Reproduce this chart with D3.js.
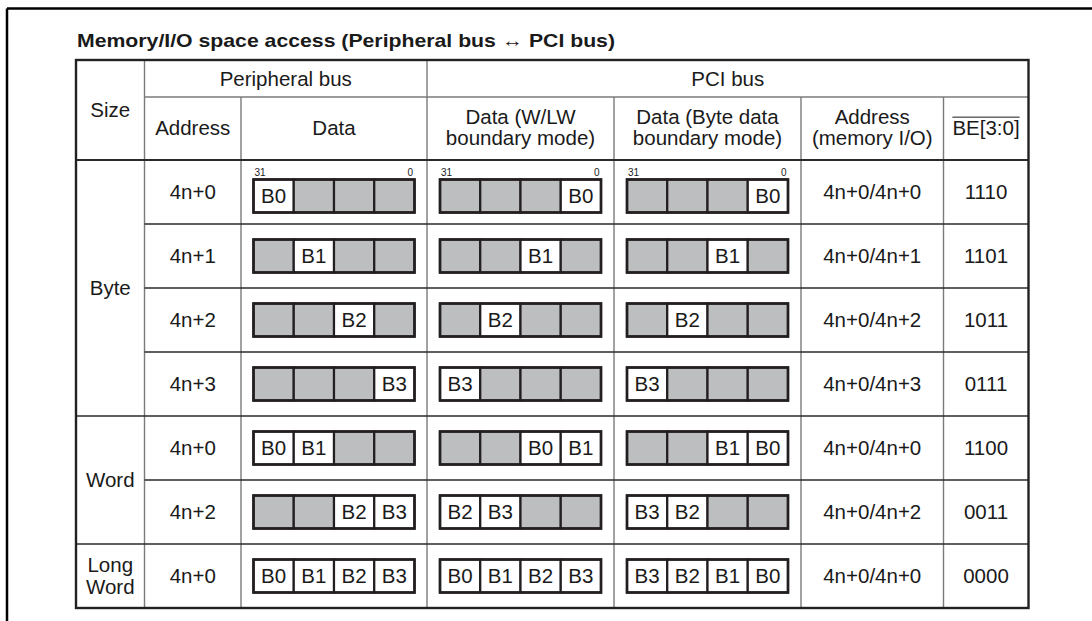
<!DOCTYPE html>
<html>
<head>
<meta charset="utf-8">
<script src="https://cdn.jsdelivr.net/npm/d3@7"></script>
<style>
  html, body { margin: 0; padding: 0; background: #fff; }
  svg { display: block; }
  text { font-family: "Liberation Sans", Arial, Helvetica, sans-serif; fill: #1a1a1a; }
</style>
</head>
<body>
<svg id="chart" width="1092" height="621"></svg>
<script>
// ---------------- data ----------------
const title = "Memory/I/O space access (Peripheral bus \u2194 PCI bus)";
const groupHeaders = ["Peripheral bus", "PCI bus"];
const columnHeaders = [
  ["Size"], ["Address"], ["Data"],
  ["Data (W/LW", "boundary mode)"],
  ["Data (Byte data", "boundary mode)"],
  ["Address", "(memory I/O)"],
  ["BE[3:0]"]
];
const sizeGroups = [
  { label: ["Byte"], rows: 4 },
  { label: ["Word"], rows: 2 },
  { label: ["Long", "Word"], rows: 1 }
];
const addresses = ["4n+0", "4n+1", "4n+2", "4n+3", "4n+0", "4n+2", "4n+0"];
const peripheralData = [
  ["B0", "", "", ""],
  ["", "B1", "", ""],
  ["", "", "B2", ""],
  ["", "", "", "B3"],
  ["B0", "B1", "", ""],
  ["", "", "B2", "B3"],
  ["B0", "B1", "B2", "B3"]
];
const pciWordData = [
  ["", "", "", "B0"],
  ["", "", "B1", ""],
  ["", "B2", "", ""],
  ["B3", "", "", ""],
  ["", "", "B0", "B1"],
  ["B2", "B3", "", ""],
  ["B0", "B1", "B2", "B3"]
];
const pciByteData = [
  ["", "", "", "B0"],
  ["", "", "B1", ""],
  ["", "B2", "", ""],
  ["B3", "", "", ""],
  ["", "", "B1", "B0"],
  ["B3", "B2", "", ""],
  ["B3", "B2", "B1", "B0"]
];
const pciAddresses = ["4n+0/4n+0", "4n+0/4n+1", "4n+0/4n+2", "4n+0/4n+3", "4n+0/4n+0", "4n+0/4n+2", "4n+0/4n+0"];
const byteEnables = ["1110", "1101", "1011", "0111", "1100", "0011", "0000"];
const bitLabels = ["31", "0"];

// ---------------- layout ----------------
const svg = d3.select("#chart");
const FONT = 20.5;
const colEdges = [76, 144.5, 241, 427, 614, 801, 943.5, 1028.5];
const yTop = 60, yHead1 = 97, yHead2 = 160, yBottom = 608;
const nRows = addresses.length;

const rowScale = d3.scaleBand().domain(d3.range(nRows)).range([yHead2, yBottom]).padding(0);
const colX = i => colEdges[i];
const colMid = i => (colEdges[i] + colEdges[i + 1]) / 2;
const capOff = FONT * 0.355;

// outer frame
svg.append("line").attr("x1", 7).attr("x2", 1092).attr("y1", 8.5).attr("y2", 8.5)
  .attr("stroke", "#000").attr("stroke-width", 2.5);
svg.append("line").attr("x1", 7).attr("x2", 7).attr("y1", 8.5).attr("y2", 621)
  .attr("stroke", "#000").attr("stroke-width", 2.5);

// title
svg.append("text").attr("x", 77).attr("y", 46.5)
  .attr("font-size", 19).attr("font-weight", "bold")
  .attr("textLength", 538).attr("lengthAdjust", "spacingAndGlyphs")
  .text(title);

const grid = svg.append("g");
const VCOL = "#7a7a7a", HCOL = "#2a2a2a";

// vertical inner lines
grid.append("line").attr("x1", colX(1)).attr("x2", colX(1)).attr("y1", yTop).attr("y2", yBottom)
  .attr("stroke", VCOL).attr("stroke-width", 1.4);
grid.append("line").attr("x1", colX(3)).attr("x2", colX(3)).attr("y1", yTop).attr("y2", yBottom)
  .attr("stroke", VCOL).attr("stroke-width", 1.4);
[2, 4, 5, 6].forEach(i => {
  grid.append("line").attr("x1", colX(i)).attr("x2", colX(i)).attr("y1", yHead1).attr("y2", yBottom)
    .attr("stroke", VCOL).attr("stroke-width", 1.4);
});
grid.append("line").attr("x1", colX(1)).attr("x2", colX(7)).attr("y1", yHead1).attr("y2", yHead1)
  .attr("stroke", VCOL).attr("stroke-width", 1.4);

// horizontal row lines
let r0 = 0;
sizeGroups.forEach((g, gi) => {
  for (let k = 1; k < g.rows; k++) {
    const y = rowScale(r0 + k);
    grid.append("line").attr("x1", colX(1)).attr("x2", colX(7)).attr("y1", y).attr("y2", y)
      .attr("stroke", HCOL).attr("stroke-width", 1.3);
  }
  r0 += g.rows;
  if (gi < sizeGroups.length - 1) {
    const y = rowScale(r0);
    grid.append("line").attr("x1", colX(0)).attr("x2", colX(7)).attr("y1", y).attr("y2", y)
      .attr("stroke", HCOL).attr("stroke-width", 1.3);
  }
});
grid.append("line").attr("x1", colX(0)).attr("x2", colX(7)).attr("y1", yHead2).attr("y2", yHead2)
  .attr("stroke", HCOL).attr("stroke-width", 2.2);
grid.append("rect").attr("x", colX(0)).attr("y", yTop)
  .attr("width", colX(7) - colX(0)).attr("height", yBottom - yTop)
  .attr("fill", "none").attr("stroke", "#222").attr("stroke-width", 2.4);

// ---- text ----
const txt = svg.append("g").attr("font-size", FONT).attr("text-anchor", "middle");
function multiline(x, cy, lines, lh) {
  const n = lines.length;
  return lines.map((l, i) =>
    txt.append("text").attr("x", x).attr("y", cy + capOff + (i - (n - 1) / 2) * lh).text(l));
}
multiline((colX(1) + colX(3)) / 2, (yTop + yHead1) / 2, [groupHeaders[0]], 21);
multiline((colX(3) + colX(7)) / 2, (yTop + yHead1) / 2, [groupHeaders[1]], 21);
multiline(colMid(0), (yTop + yHead2) / 2, columnHeaders[0], 21);
let beSel = null;
for (let i = 1; i < 7; i++) {
  const t = multiline(colMid(i), (yHead1 + yHead2) / 2 - 1, columnHeaders[i], 21);
  if (i === 6) beSel = t[0];
}
// overline on BE[3:0]
{
  const w = beSel.node().getComputedTextLength();
  const x = colMid(6), y = +beSel.attr("y");
  svg.append("line").attr("x1", x - w / 2).attr("x2", x + w / 2)
    .attr("y1", y - FONT * 0.86).attr("y2", y - FONT * 0.86)
    .attr("stroke", "#1a1a1a").attr("stroke-width", 1);
}

// size labels
r0 = 0;
sizeGroups.forEach(g => {
  const y0 = rowScale(r0), y1 = rowScale(r0 + g.rows - 1) + rowScale.bandwidth();
  multiline(colMid(0), (y0 + y1) / 2, g.label, 22);
  r0 += g.rows;
});

// ---- row cells ----
const BOX_W = 161, BOX_H = 33;
const cellScale = d3.scaleBand().domain(d3.range(4)).range([0, BOX_W]).padding(0);
const boxes = svg.append("g");
const boxCols = [
  { col: 2, data: peripheralData },
  { col: 3, data: pciWordData },
  { col: 4, data: pciByteData }
];

addresses.forEach((a, r) => {
  const cy = rowScale(r) + rowScale.bandwidth() / 2;
  const boxCy = r === 0 ? cy + 4 : cy;
  multiline(colMid(1), cy, [a], 21);
  multiline(colMid(5), cy, [pciAddresses[r]], 21);
  multiline(colMid(6), cy, [byteEnables[r]], 21);

  boxCols.forEach(bc => {
    const bx = colMid(bc.col) - BOX_W / 2;
    const by = boxCy - BOX_H / 2;
    const g = boxes.append("g").attr("transform", `translate(${bx},${by})`);
    const cells = bc.data[r];
    g.selectAll("rect.cell").data(cells).enter().append("rect")
      .attr("class", "cell")
      .attr("x", (d, i) => cellScale(i)).attr("y", 0)
      .attr("width", cellScale.bandwidth()).attr("height", BOX_H)
      .attr("fill", d => d ? "#ffffff" : "#bcbec0")
      .attr("stroke", "#231f20").attr("stroke-width", 2.2);
    g.selectAll("text.cell").data(cells).enter().append("text")
      .attr("class", "cell")
      .attr("x", (d, i) => cellScale(i) + cellScale.bandwidth() / 2)
      .attr("y", BOX_H / 2 + capOff)
      .attr("text-anchor", "middle").attr("font-size", FONT)
      .text(d => d);
    g.append("rect").attr("x", 0).attr("y", 0).attr("width", BOX_W).attr("height", BOX_H)
      .attr("fill", "none").attr("stroke", "#231f20").attr("stroke-width", 2.6);
    if (r === 0) {
      g.append("text").attr("x", 1).attr("y", -3.5).attr("font-size", 10)
        .attr("text-anchor", "start").text(bitLabels[0]);
      g.append("text").attr("x", BOX_W - 1.5).attr("y", -3.5).attr("font-size", 10)
        .attr("text-anchor", "end").text(bitLabels[1]);
    }
  });
});
</script>
</body>
</html>
